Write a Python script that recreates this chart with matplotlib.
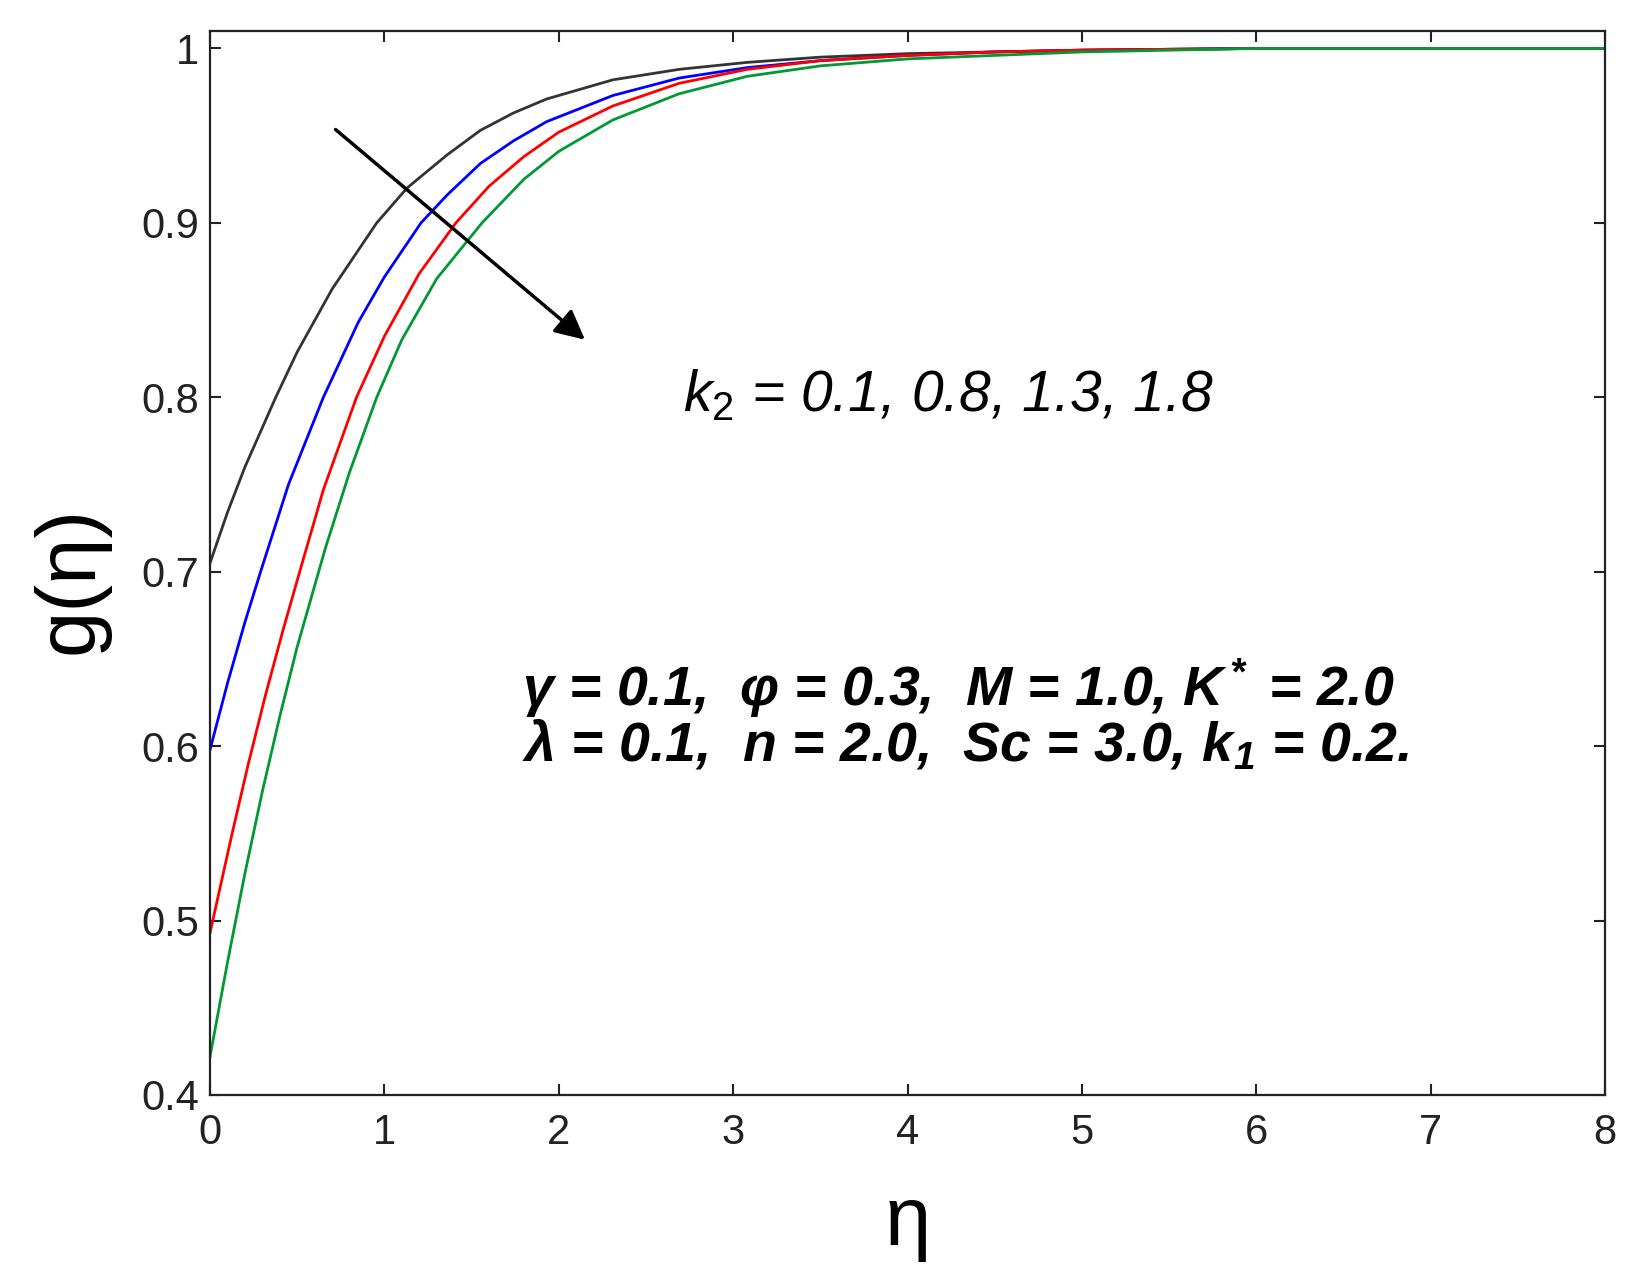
import matplotlib
matplotlib.use('Agg')
import matplotlib.pyplot as plt

plt.rcParams['font.family'] = ['Liberation Sans', 'DejaVu Sans']
plt.rcParams['mathtext.fontset'] = 'custom'
plt.rcParams['mathtext.rm'] = 'Liberation Sans'
plt.rcParams['mathtext.it'] = 'Liberation Sans:italic'
plt.rcParams['mathtext.bf'] = 'Liberation Sans:italic:bold'

# values, g(eta) for k2 = 0.1, 0.8, 1.3, 1.8
eta_k01 = [0, 0.1, 0.2, 0.377, 0.5, 0.7, 0.956, 1.13, 1.36, 1.55, 1.74, 1.93,
           2.31, 2.69, 3.08, 3.5, 4.0, 4.5, 5.0, 6.0, 7.0, 8.0]
g_k01 = [0.705, 0.734, 0.760, 0.800, 0.826, 0.862, 0.900, 0.920, 0.939, 0.953,
         0.963, 0.971, 0.982, 0.988, 0.992, 0.995, 0.997, 0.998, 0.999, 1.0, 1.0, 1.0]

eta_k08 = [0, 0.1, 0.2, 0.29, 0.45, 0.65, 0.85, 1.0, 1.21, 1.36, 1.55, 1.74,
           1.93, 2.31, 2.69, 3.08, 3.5, 4.0, 4.5, 5.0, 5.5, 6.0, 7.0, 8.0]
g_k08 = [0.598, 0.636, 0.671, 0.700, 0.750, 0.800, 0.843, 0.869, 0.900, 0.916,
         0.934, 0.947, 0.958, 0.973, 0.983, 0.989, 0.993, 0.996, 0.998, 0.999,
         0.9995, 1.0, 1.0, 1.0]

eta_k13 = [0, 0.127, 0.22, 0.32, 0.42, 0.52, 0.65, 0.84, 1.0, 1.2, 1.41, 1.6,
           1.8, 2.0, 2.31, 2.69, 3.08, 3.5, 4.0, 4.5, 5.0, 6.0, 7.0, 8.0]
g_k13 = [0.493, 0.550, 0.590, 0.630, 0.667, 0.702, 0.747, 0.800, 0.835, 0.871,
         0.900, 0.921, 0.938, 0.952, 0.967, 0.980, 0.988, 0.993, 0.996, 0.998,
         0.999, 1.0, 1.0, 1.0]

eta_k18 = [0, 0.1, 0.2, 0.3, 0.4, 0.5, 0.663, 0.8, 0.956, 1.1, 1.3, 1.56, 1.8,
           2.0, 2.31, 2.69, 3.08, 3.5, 4.0, 4.5, 5.0, 5.5, 6.0, 7.0, 8.0]
g_k18 = [0.422, 0.476, 0.527, 0.574, 0.617, 0.657, 0.714, 0.757, 0.800, 0.833,
         0.868, 0.900, 0.925, 0.941, 0.959, 0.974, 0.984, 0.990, 0.994, 0.996,
         0.998, 0.999, 1.0, 1.0, 1.0]

xticks = [0, 1, 2, 3, 4, 5, 6, 7, 8]
yticks = [0.4, 0.5, 0.6, 0.7, 0.8, 0.9, 1.0]
ytick_labels = ['0.4', '0.5', '0.6', '0.7', '0.8', '0.9', '1']

fig = plt.figure(figsize=(16.46, 12.70), dpi=100)
ax = fig.add_axes([0.1276, 0.1378, 0.8475, 0.8378])

ax.plot(eta_k01, g_k01, color='#333333', lw=2.0)
ax.plot(eta_k08, g_k08, color='#0000ff', lw=2.0)
ax.plot(eta_k13, g_k13, color='#ff0000', lw=2.0)
ax.plot(eta_k18, g_k18, color='#009933', lw=2.0)

ax.set_xlim(0, 8)
ax.set_ylim(0.4, 1.01)
ax.set_xticks(xticks)
ax.set_xticklabels([str(t) for t in xticks])
ax.set_yticks(yticks)
ax.set_yticklabels(ytick_labels)
ax.tick_params(direction='in', length=8, width=1.5, top=True, right=True,
               labelsize=30, colors='#222222')
ax.tick_params(axis='x', pad=13)
ax.tick_params(axis='y', pad=8)
for s in ax.spines.values():
    s.set_linewidth(1.6)
    s.set_color('#222222')

ax.set_xlabel('η', fontsize=60, labelpad=22)
ax.set_ylabel('g(η)', fontsize=60)
ax.yaxis.set_label_coords(-0.072, 0.484)

# arrow showing increasing k2
ax.annotate('', xy=(2.15, 0.833), xytext=(0.72, 0.9535),
            arrowprops=dict(arrowstyle='-|>', color='k', lw=2.5,
                            mutation_scale=45, shrinkA=0, shrinkB=0))

ax.text(2.71, 0.801, r'$k_2$ = 0.1, 0.8, 1.3, 1.8', fontsize=41,
        fontstyle='italic', va='center', ha='left')
ax.text(1.79, 0.633, 'γ = 0.1,  φ = 0.3,  M = 1.0, ' + r'$\mathbf{K^*}$' + ' = 2.0',
        fontsize=40, fontstyle='italic', fontweight='bold', va='center', ha='left')
ax.text(1.79, 0.600, 'λ = 0.1,  n = 2.0,  Sc = 3.0, ' + r'$\mathbf{k_1}$' + ' = 0.2.',
        fontsize=40, fontstyle='italic', fontweight='bold', va='center', ha='left')

fig.savefig('out.png', dpi=100)
